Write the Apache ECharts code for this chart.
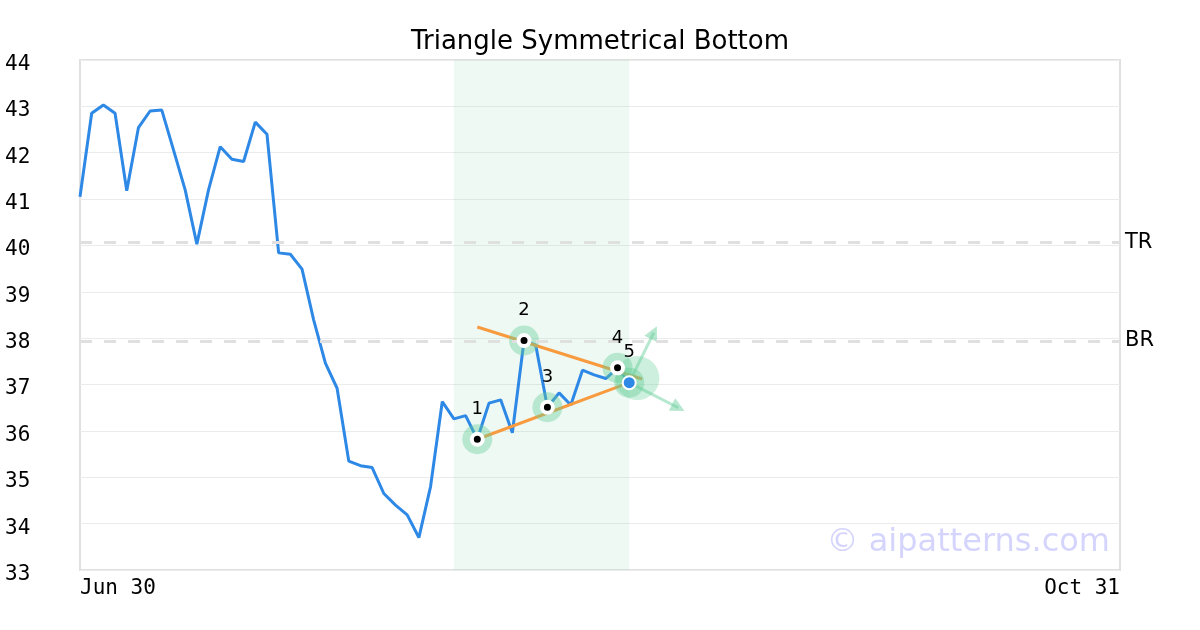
<!DOCTYPE html>
<html>
<head>
<meta charset="utf-8">
<script src="https://cdn.jsdelivr.net/npm/echarts@6/dist/echarts.min.js"></script>
<style>html,body{margin:0;padding:0;background:#fff}#c{width:1200px;height:630px}</style>
</head>
<body>
<div id="c"></div>
<script>
// ---- data ----
const titleText = 'Triangle Symmetrical Bottom';
const xTickPositions = [0, 89];
const xTickLabels = ['Jun 30', 'Oct 31'];
const yTicks = [33, 34, 35, 36, 37, 38, 39, 40, 41, 42, 43, 44];
const prices = [
  41.05, 42.85, 43.03, 42.85, 41.18, 42.54, 42.90, 42.92, 42.06, 41.20,
  40.03, 41.20, 42.13, 41.86, 41.81, 42.66, 42.40, 39.84, 39.81, 39.49,
  38.39, 37.46, 36.92, 35.35, 35.25, 35.21, 34.65, 34.40, 34.19, 33.70,
  34.80, 36.63, 36.26, 36.33, 35.82, 36.60, 36.67, 35.96, 37.95, 37.85,
  36.51, 36.82, 36.56, 37.31, 37.21, 37.13, 37.36, 37.04
];
const patternIdx = [34, 38, 40, 46, 47];
const patternLabels = ['1', '2', '3', '4', '5'];
const zoneRange = [32, 47];
const levelNames = ['TR', 'BR'];
const levelValues = [40.07, 37.94];
const upperTrend = [[34, 38.24], [48.1, 37.12]];
const lowerTrend = [[34, 35.82], [47, 37.04]];
const apexPoint = [47.7, 37.14];
const arrowUp = [[47, 37.04], [49.1, 38.12]];
const arrowDown = [[47, 37.04], [51.2, 36.50]];
const watermark = '\u00a9 aipatterns.com';

// ---- chart ----
const chart = echarts.init(document.getElementById('c'), null, {renderer: 'canvas'});
const priceData = prices.map((v, i) => [i, v]);
const pts = patternIdx.map((i, k) => ({value: [i, prices[i]], name: patternLabels[k]}));
const halo = 'rgba(100,205,150,0.4)';

const option = {
  animation: false,
  backgroundColor: '#fff',
  title: {
    text: titleText, left: 'center', top: 24,
    textStyle: {fontFamily: 'DejaVu Sans', fontSize: 26, fontWeight: 'normal', color: '#000'}
  },
  grid: {left: 80, right: 80, top: 60, bottom: 60, show: true, borderColor: '#e0e0e0', borderWidth: 2, backgroundColor: 'transparent'},
  xAxis: {
    type: 'value', min: xTickPositions[0], max: xTickPositions[1], interval: xTickPositions[1] - xTickPositions[0],
    axisLine: {show: false}, axisTick: {show: false}, splitLine: {show: false},
    axisLabel: {
      fontFamily: 'DejaVu Sans Mono', fontSize: 21, color: '#000', margin: 8,
      alignMinLabel: 'left', alignMaxLabel: 'right',
      formatter: v => { const k = xTickPositions.indexOf(v); return k >= 0 ? xTickLabels[k] : ''; }
    }
  },
  yAxis: {
    type: 'value', min: yTicks[0], max: yTicks[yTicks.length - 1], interval: 1,
    axisLine: {show: false}, axisTick: {show: false},
    splitLine: {lineStyle: {color: '#ebebeb', width: 1}},
    axisLabel: {fontFamily: 'DejaVu Sans Mono', fontSize: 21, color: '#000', align: 'left', margin: 75, verticalAlign: 'top', lineHeight: 9}
  },
  graphic: [{
    type: 'text', right: 90, top: 527, z: 100,
    style: {text: watermark, fontFamily: 'DejaVu Sans', fontSize: 32, fill: 'rgba(120,120,250,0.32)'}
  }],
  series: [
    {
      type: 'line', data: priceData, showSymbol: false, z: 2,
      lineStyle: {color: '#2d88e6', width: 3}, silent: true,
      markArea: {silent: true, itemStyle: {color: 'rgba(150,215,185,0.16)'}, data: [[{xAxis: zoneRange[0]}, {xAxis: zoneRange[1]}]]},
      markLine: {
        silent: true, symbol: 'none',
        lineStyle: {color: '#e0e0e0', width: 3, type: [12, 12]},
        label: {show: true, position: 'end', distance: 5, formatter: '{b}', fontFamily: 'DejaVu Sans', fontSize: 21, color: '#000'},
        data: levelValues.map((v, k) => ({yAxis: v, name: levelNames[k]}))
      }
    },
    {type: 'line', data: upperTrend, showSymbol: false, z: 3, silent: true, lineStyle: {color: '#f89a3e', width: 3}},
    {type: 'line', data: lowerTrend, showSymbol: false, z: 3, silent: true, lineStyle: {color: '#f89a3e', width: 3}},
    {
      type: 'lines', coordinateSystem: 'cartesian2d', z: 4, silent: true,
      symbol: ['none', 'triangle'], symbolSize: 14,
      lineStyle: {color: 'rgba(110,208,160,0.5)', width: 3, opacity: 1},
      data: [{coords: arrowUp}, {coords: arrowDown}]
    },
    {type: 'scatter', data: pts.map(p => p.value), symbolSize: 30, z: 4, silent: true, itemStyle: {color: halo, opacity: 1}},
    {type: 'scatter', data: [apexPoint], symbolSize: 44, z: 4, silent: true, itemStyle: {color: 'rgba(100,205,150,0.32)', opacity: 1}},
    {
      type: 'scatter', z: 6, silent: true,
      data: pts.map((p, k) => ({
        value: p.value, name: p.name,
        symbolSize: k === pts.length - 1 ? 13 : 11,
        itemStyle: k === pts.length - 1 ? {color: '#2d88e6', borderColor: '#fff', borderWidth: 2, opacity: 1} : {color: '#000', borderColor: '#fff', borderWidth: 4, opacity: 1}
      })),
      label: {show: true, position: 'inside', offset: [0, -30], formatter: '{b}', fontFamily: 'DejaVu Sans', fontSize: 18, color: '#000', textBorderWidth: 0}
    }
  ]
};
chart.setOption(option);
</script>
</body>
</html>
